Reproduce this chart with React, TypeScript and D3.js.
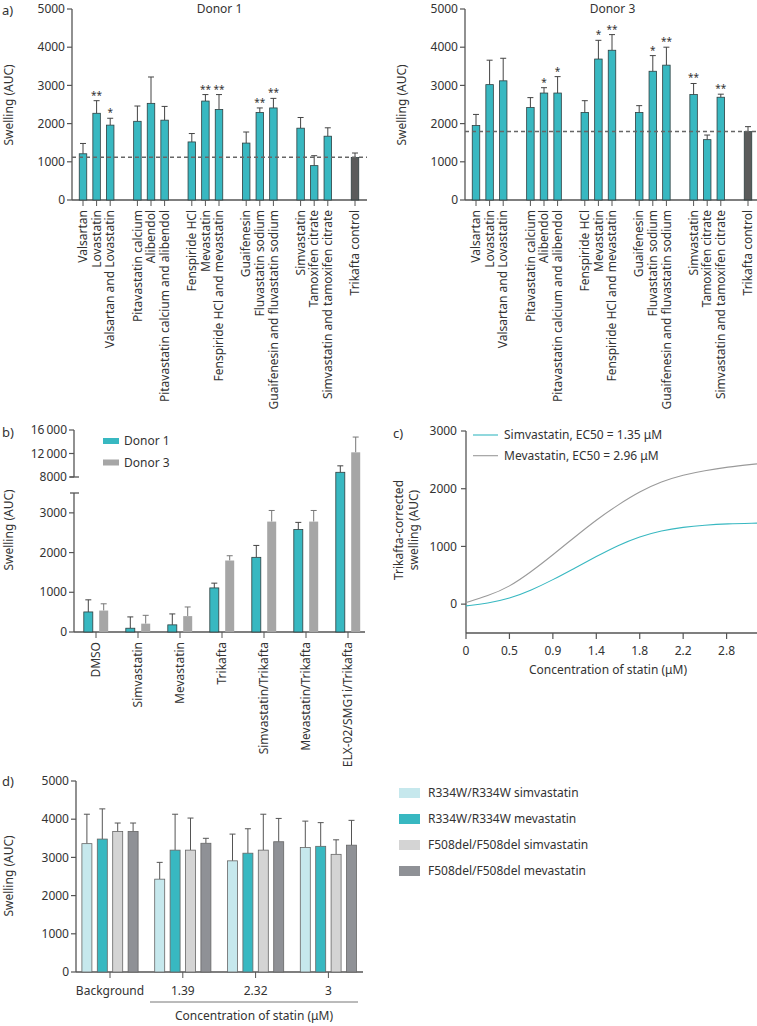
import React from "react";
import * as d3 from "d3";

const FONT = "'Noto Sans', 'Open Sans', sans-serif";
const TXT = "#333";
const AX = "#555";
const TEAL = "#38b8c1";
const MU = "\u03bc";

// ---------- Panel a ----------
const aCategories = [
  "Valsartan", "Lovastatin", "Valsartan and Lovastatin",
  "Pitavastatin calcium", "Alibendol", "Pitavastatin calcium and alibendol",
  "Fenspiride HCl", "Mevastatin", "Fenspiride HCl and mevastatin",
  "Guaifenesin", "Fluvastatin sodium", "Guaifenesin and fluvastatin sodium",
  "Simvastatin", "Tamoxifen citrate", "Simvastatin and tamoxifen citrate",
  "Trikafta control",
];
const aGroup = [0, 0, 0, 1, 1, 1, 2, 2, 2, 3, 3, 3, 4, 4, 4, 5];
const aTicks = [0, 1000, 2000, 3000, 4000, 5000];

const donor1Mean = [1210, 2270, 1960, 2060, 2530, 2090, 1520, 2590, 2370, 1490, 2290, 2410, 1880, 900, 1670, 1110];
const donor1Err = [1480, 2600, 2140, 2460, 3220, 2450, 1740, 2760, 2760, 1780, 2410, 2660, 2160, 1160, 1890, 1230];
const donor1Sig = ["", "**", "*", "", "", "", "", "**", "**", "", "**", "**", "", "", "", ""];
const donor1Control = 1120;

const donor3Mean = [1950, 3020, 3120, 2420, 2800, 2800, 2290, 3690, 3920, 2290, 3370, 3530, 2760, 1580, 2690, 1790];
const donor3Err = [2240, 3660, 3710, 2680, 2940, 3230, 2600, 4180, 4330, 2470, 3780, 4000, 3050, 1700, 2770, 1920];
const donor3Sig = ["", "", "", "", "*", "*", "", "*", "**", "", "*", "**", "**", "", "**", ""];
const donor3Control = 1795;

// ---------- Panel b ----------
const bCategories = ["DMSO", "Simvastatin", "Mevastatin", "Trikafta", "Simvastatin/Trikafta", "Mevastatin/Trikafta", "ELX-02/SMG1i/Trikafta"];
const bDonor1 = [505, 95, 180, 1110, 1880, 2580, 8800];
const bDonor1Err = [810, 380, 455, 1230, 2180, 2760, 9900];
const bDonor3 = [540, 210, 400, 1800, 2780, 2780, 12200];
const bDonor3Err = [710, 420, 630, 1920, 3060, 3060, 14800];
const bLowTicks = [0, 1000, 2000, 3000];
const bHighTicks = [8000, 12000, 16000];
const bHighLabels = ["8000", "12\u2009000", "16\u2009000"];
const bSeries = ["Donor 1", "Donor 3"];

// ---------- Panel c ----------
const cTickLabels = ["0", "0.5", "0.9", "1.4", "1.8", "2.2", "2.8"];
const cX = [0, 0.5, 1, 1.5, 2, 2.5, 3, 3.5, 4, 4.5, 5, 5.5, 6, 6.7];
const cSimva = [-30, 15, 95, 240, 421, 624, 825, 1020, 1172, 1276, 1334, 1370, 1392, 1404];
const cMeva = [28, 140, 300, 560, 854, 1161, 1461, 1721, 1952, 2125, 2241, 2315, 2374, 2431];
const cYTicks = [0, 1000, 2000, 3000];
const cLegend = [`Simvastatin, EC50 = 1.35 ${MU}M`, `Mevastatin, EC50 = 2.96 ${MU}M`];

// ---------- Panel d ----------
const dGroups = ["Background", "1.39", "2.32", "3"];
const dSeries = ["R334W/R334W simvastatin", "R334W/R334W mevastatin", "F508del/F508del simvastatin", "F508del/F508del mevastatin"];
const dMean = [
  [3360, 2430, 2910, 3260],
  [3480, 3190, 3110, 3290],
  [3680, 3190, 3190, 3080],
  [3680, 3370, 3410, 3320],
];
const dErr = [
  [4130, 2870, 3610, 3950],
  [4270, 4130, 3750, 3910],
  [3900, 4030, 4130, 3460],
  [3900, 3500, 4020, 3970],
];
const dColors = ["#c6e8ed", TEAL, "#d4d4d4", "#8f9196"];
const dTicks = [0, 1000, 2000, 3000, 4000, 5000];

function DonorPanel({ x0, title, mean, err, sig, control }: any) {
  const y = d3.scaleLinear().domain([0, 5000]).range([200, 9]);
  const xs = d3.scaleLinear().domain([0, 20]).range([x0 + 11, x0 + 283]);
  const slot = (i: number) => {
    const g = aGroup[i];
    const within = aGroup.slice(0, i).filter((v) => v === g).length;
    return g * 4 + within;
  };
  const bw = 7.5;
  const xEnd = x0 + 295;
  return (
    <g>
      <text x={(x0 + xEnd) / 2} y={13} textAnchor="middle" fontSize={12} fill={TXT}>{title}</text>
      <line x1={x0} x2={x0} y1={y(5000)} y2={y(0)} stroke={AX} strokeWidth={1.3} />
      <line x1={x0} x2={xEnd} y1={y(0)} y2={y(0)} stroke={AX} strokeWidth={1.3} />
      {aTicks.map((t) => (
        <g key={t}>
          <line x1={x0 - 5} x2={x0} y1={y(t)} y2={y(t)} stroke={AX} strokeWidth={1.2} />
          <text x={x0 - 7} y={y(t)} dy="0.35em" textAnchor="end" fontSize={12} fill={TXT}>{t}</text>
        </g>
      ))}
      {mean.map((m: number, i: number) => {
        const cx = xs(slot(i));
        const isCtrl = i === mean.length - 1;
        return (
          <g key={i}>
            <line x1={cx} x2={cx} y1={y(m)} y2={y(err[i])} stroke="#444" strokeWidth={1} />
            <line x1={cx - 3} x2={cx + 3} y1={y(err[i])} y2={y(err[i])} stroke="#444" strokeWidth={1} />
            <rect x={cx - bw / 2} y={y(m)} width={bw} height={y(0) - y(m)} fill={isCtrl ? "#5b5b5b" : TEAL} stroke="#2f3f40" strokeWidth={0.8} />
            {sig[i] && (
              <text x={cx} y={y(err[i]) - 2} textAnchor="middle" fontSize={10} fill={TXT}>{sig[i]}</text>
            )}
            <line x1={cx} x2={cx} y1={y(0)} y2={y(0) + 6} stroke={AX} strokeWidth={1} />
            <text transform={`translate(${cx},${y(0) + 10}) rotate(-90)`} textAnchor="end" dy="0.35em" fontSize={12} fill={TXT}>{aCategories[i]}</text>
          </g>
        );
      })}
      <line x1={x0} x2={xEnd} y1={y(control)} y2={y(control)} stroke="#666" strokeWidth={1.5} strokeDasharray="4,3" />
    </g>
  );
}

function PanelB() {
  const x0 = 74;
  const y = d3.scaleLinear().domain([0, 3500, 8000, 16000]).range([632, 493, 477, 430]);
  const xb = d3.scaleBand().domain(bCategories).range([x0 + 1, x0 + 295]).paddingInner(0).paddingOuter(0);
  const bw = 9;
  const off = 7.7;
  const colors = [TEAL, "#a6a6a6"];
  const series = [bDonor1, bDonor3];
  const errs = [bDonor1Err, bDonor3Err];
  return (
    <g>
      <text x={2} y={432} dy="0.35em" fontSize={13} fill={TXT}>b)</text>
      <line x1={x0} x2={x0} y1={y(16000)} y2={y(8000)} stroke={AX} strokeWidth={1.3} />
      <line x1={x0 - 4} x2={x0 + 5} y1={y(8000)} y2={y(8000)} stroke={AX} strokeWidth={1.3} />
      <line x1={x0} x2={x0} y1={y(3500)} y2={y(0)} stroke={AX} strokeWidth={1.3} />
      <line x1={x0 - 4} x2={x0 + 5} y1={y(3500)} y2={y(3500)} stroke={AX} strokeWidth={1.3} />
      <line x1={x0} x2={x0 + 291} y1={y(0)} y2={y(0)} stroke={AX} strokeWidth={1.3} />
      {bLowTicks.map((t) => (
        <g key={t}>
          <line x1={x0 - 5} x2={x0} y1={y(t)} y2={y(t)} stroke={AX} strokeWidth={1.2} />
          <text x={x0 - 7} y={y(t)} dy="0.35em" textAnchor="end" fontSize={12} fill={TXT}>{t}</text>
        </g>
      ))}
      {bHighTicks.map((t, i) => (
        <g key={t}>
          <line x1={x0 - 5} x2={x0} y1={y(t)} y2={y(t)} stroke={AX} strokeWidth={1.2} />
          <text x={x0 - 7} y={y(t)} dy="0.35em" textAnchor="end" fontSize={12} fill={TXT}>{bHighLabels[i]}</text>
        </g>
      ))}
      <text transform={`translate(13,530) rotate(-90)`} textAnchor="middle" fontSize={12} fill={TXT}>Swelling (AUC)</text>
      {bCategories.map((c, i) => {
        const cx = (xb(c) as number) + xb.bandwidth() / 2;
        return (
          <g key={c}>
            {series.map((s, k) => {
              const bx = cx + (k === 0 ? -off : off);
              return (
                <g key={k}>
                  <line x1={bx} x2={bx} y1={y(s[i])} y2={y(errs[k][i])} stroke={k === 0 ? "#444" : "#777"} strokeWidth={1} />
                  <line x1={bx - 3} x2={bx + 3} y1={y(errs[k][i])} y2={y(errs[k][i])} stroke={k === 0 ? "#444" : "#777"} strokeWidth={1} />
                  <rect x={bx - bw / 2} y={y(s[i])} width={bw} height={y(0) - y(s[i])} fill={colors[k]} stroke={k === 0 ? "#2f3f40" : "none"} strokeWidth={0.8} />
                </g>
              );
            })}
            <line x1={cx} x2={cx} y1={y(0)} y2={y(0) + 6} stroke={AX} strokeWidth={1} />
            <text transform={`translate(${cx},${y(0) + 10}) rotate(-90)`} textAnchor="end" dy="0.35em" fontSize={12} fill={TXT}>{c}</text>
          </g>
        );
      })}
      {bSeries.map((s, k) => (
        <g key={s}>
          <rect x={103} y={441 + k * 21.5 - 3} width={16} height={6} fill={colors[k]} />
          <text x={124} y={441 + k * 21.5} dy="0.35em" fontSize={12} fill={TXT}>{s}</text>
        </g>
      ))}
    </g>
  );
}

function PanelC() {
  const x0 = 466;
  const x = d3.scaleLinear().domain([0, 6.7]).range([x0, 757]);
  const y = d3.scaleLinear().domain([-500, 3000]).range([633, 431]);
  const line = d3.line<number>().x((_, i) => x(cX[i])).y((v) => y(v)).curve(d3.curveBasis);
  const colors = [TEAL, "#9a9a9a"];
  return (
    <g>
      <text x={393} y={433} dy="0.35em" fontSize={13} fill={TXT}>c)</text>
      <line x1={x0} x2={x0} y1={y(3000)} y2={y(-500)} stroke={AX} strokeWidth={1.3} />
      <line x1={x0} x2={757} y1={y(-500)} y2={y(-500)} stroke={AX} strokeWidth={1.3} />
      {cYTicks.map((t) => (
        <g key={t}>
          <line x1={x0 - 5} x2={x0} y1={y(t)} y2={y(t)} stroke={AX} strokeWidth={1.2} />
          <text x={x0 - 9} y={y(t)} dy="0.35em" textAnchor="end" fontSize={12} fill={TXT}>{t}</text>
        </g>
      ))}
      {cTickLabels.map((l, i) => (
        <g key={l}>
          <line x1={x(i)} x2={x(i)} y1={y(-500)} y2={y(-500) + 6} stroke={AX} strokeWidth={1.2} />
          <text x={x(i)} y={y(-500) + 18} dy="0.35em" textAnchor="middle" fontSize={12} fill={TXT}>{l}</text>
        </g>
      ))}
      <text x={608} y={670} dy="0.35em" textAnchor="middle" fontSize={12} fill={TXT}>{`Concentration of statin (${MU}M)`}</text>
      <text transform={`translate(403,530) rotate(-90)`} textAnchor="middle" fontSize={12} fill={TXT}>
        <tspan x={0} dy="0">Trikafta-corrected</tspan>
        <tspan x={0} dy="15">swelling (AUC)</tspan>
      </text>
      <path d={line(cMeva) as string} fill="none" stroke={colors[1]} strokeWidth={1.1} />
      <path d={line(cSimva) as string} fill="none" stroke={colors[0]} strokeWidth={1.1} />
      {cLegend.map((l, k) => (
        <g key={l}>
          <line x1={473} x2={498} y1={435 + k * 20.7} y2={435 + k * 20.7} stroke={colors[k]} strokeWidth={1.1} />
          <text x={504} y={435 + k * 20.7} dy="0.35em" fontSize={12} fill={TXT}>{l}</text>
        </g>
      ))}
    </g>
  );
}

function PanelD() {
  const x0 = 76;
  const y = d3.scaleLinear().domain([0, 5000]).range([972, 781]);
  const xg = d3.scaleBand().domain(dGroups).range([x0 - 2.4, x0 + 288.8]);
  const bw = 10;
  const step = 15.4;
  return (
    <g>
      <text x={2} y={781} dy="0.35em" fontSize={13} fill={TXT}>d)</text>
      <line x1={x0} x2={x0} y1={y(5000)} y2={y(0)} stroke={AX} strokeWidth={1.3} />
      <line x1={x0} x2={363} y1={y(0)} y2={y(0)} stroke={AX} strokeWidth={1.3} />
      {dTicks.map((t) => (
        <g key={t}>
          <line x1={x0 - 5} x2={x0} y1={y(t)} y2={y(t)} stroke={AX} strokeWidth={1.2} />
          <text x={x0 - 7} y={y(t)} dy="0.35em" textAnchor="end" fontSize={12} fill={TXT}>{t}</text>
        </g>
      ))}
      <text transform={`translate(13,876) rotate(-90)`} textAnchor="middle" fontSize={12} fill={TXT}>Swelling (AUC)</text>
      {dGroups.map((g, gi) => {
        const cx = (xg(g) as number) + xg.bandwidth() / 2;
        return (
          <g key={g}>
            {dSeries.map((s, k) => {
              const bx = cx + (k - 1.5) * step;
              const v = dMean[k][gi];
              const e = dErr[k][gi];
              return (
                <g key={s}>
                  <line x1={bx} x2={bx} y1={y(v)} y2={y(e)} stroke="#555" strokeWidth={1} />
                  <line x1={bx - 3} x2={bx + 3} y1={y(e)} y2={y(e)} stroke="#555" strokeWidth={1} />
                  <rect x={bx - bw / 2} y={y(v)} width={bw} height={y(0) - y(v)} fill={dColors[k]} stroke="#666" strokeWidth={0.8} />
                </g>
              );
            })}
            <line x1={cx} x2={cx} y1={y(0)} y2={y(0) + 6} stroke={AX} strokeWidth={1} />
            <text x={cx} y={991} dy="0.35em" textAnchor="middle" fontSize={12} fill={TXT}>{g}</text>
          </g>
        );
      })}
      <line x1={150} x2={358} y1={1002} y2={1002} stroke="#777" strokeWidth={1} />
      <text x={254} y={1016} dy="0.35em" textAnchor="middle" fontSize={12} fill={TXT}>{`Concentration of statin (${MU}M)`}</text>
      {dSeries.map((s, k) => (
        <g key={s}>
          <rect x={399} y={793 + k * 26 - 5} width={21} height={10} fill={dColors[k]} />
          <text x={428} y={793 + k * 26} dy="0.35em" fontSize={12} fill={TXT}>{s}</text>
        </g>
      ))}
    </g>
  );
}

export default function App() {
  return (
    <svg width={757} height={1026} style={{ position: "absolute", left: 0, top: 0, background: "#fff" }} fontFamily={FONT}>
      <rect width={757} height={1026} fill="#fff" />
      <text x={2} y={10} dy="0.35em" fontSize={13} fill={TXT}>a)</text>
      <text transform={`translate(13,105) rotate(-90)`} textAnchor="middle" fontSize={12} fill={TXT}>Swelling (AUC)</text>
      <DonorPanel x0={72} title="Donor 1" mean={donor1Mean} err={donor1Err} sig={donor1Sig} control={donor1Control} />
      <text transform={`translate(406,105) rotate(-90)`} textAnchor="middle" fontSize={12} fill={TXT}>Swelling (AUC)</text>
      <DonorPanel x0={465} title="Donor 3" mean={donor3Mean} err={donor3Err} sig={donor3Sig} control={donor3Control} />
      <PanelB />
      <PanelC />
      <PanelD />
    </svg>
  );
}
